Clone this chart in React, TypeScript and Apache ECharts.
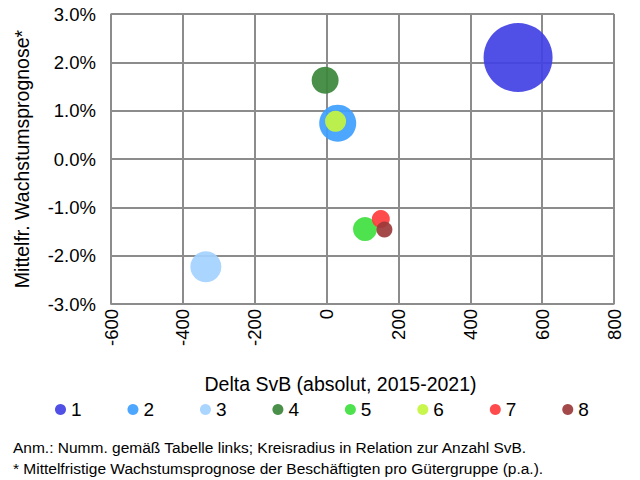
import React, { useEffect, useRef } from "react";
import * as echarts from "echarts";

const groups = ["1", "2", "3", "4", "5", "6", "7", "8"];
const deltaSvB = [533, 31, -336, -4, 107, 25, 151, 161];
const growth = [2.1, 0.74, -2.23, 1.63, -1.45, 0.78, -1.24, -1.46];
const bubbleDiameter = [69, 37, 31, 27, 24, 21, 18, 16];
const colors = ["#4141E4", "#3F9FFF", "#A3D1FF", "#3B873B", "#40E040", "#C4F53E", "#FF3C3C", "#9B3A3A"];
const footnotes = [
  "Anm.: Numm. gemäß Tabelle links; Kreisradius in Relation zur Anzahl SvB.",
  "* Mittelfristige Wachstumsprognose der Beschäftigten pro Gütergruppe (p.a.).",
];

const FONT = "Liberation Sans, Arial, sans-serif";

export default function App() {
  const ref = useRef<HTMLDivElement>(null);
  useEffect(() => {
    if (!ref.current) return;
    const chart = echarts.init(ref.current, null, { renderer: "svg" });
    chart.setOption({
      animation: false,
      textStyle: { fontFamily: FONT },
      grid: { left: 111, right: 26, top: 14, bottom: 176, containLabel: false },
      xAxis: {
        type: "value",
        min: -600,
        max: 800,
        interval: 200,
        name: "Delta SvB (absolut, 2015-2021)",
        nameLocation: "middle",
        nameGap: 70,
        nameTextStyle: { fontSize: 19.5, color: "#000", fontFamily: FONT, padding: [0, 44, 0, 0] },
        axisLine: { show: true, onZero: false, lineStyle: { color: "#8c8c8c", width: 1.5 } },
        axisTick: { show: false },
        axisLabel: { rotate: 90, fontSize: 18.5, color: "#000", margin: 5, fontFamily: FONT },
        splitLine: { show: true, lineStyle: { color: "#8c8c8c", width: 2 } },
      },
      yAxis: {
        type: "value",
        min: -3,
        max: 3,
        interval: 1,
        name: "Mittelfr. Wachstumsprognose*",
        nameLocation: "middle",
        nameGap: 79,
        nameTextStyle: { fontSize: 19.5, color: "#000", fontFamily: FONT },
        axisLine: { show: true, onZero: false, lineStyle: { color: "#8c8c8c", width: 1.5 } },
        axisTick: { show: false },
        axisLabel: {
          fontSize: 18.5,
          color: "#000",
          margin: 15,
          fontFamily: FONT,
          formatter: (v: number) => v.toFixed(1) + "%",
        },
        splitLine: { show: true, lineStyle: { color: "#8c8c8c", width: 2 } },
      },
      legend: {
        left: 50,
        top: 395,
        itemWidth: 11,
        itemHeight: 11,
        itemGap: 45.9,
        icon: "circle",
        textStyle: { fontSize: 19, color: "#000", fontFamily: FONT },
        data: groups,
      },
      graphic: footnotes.map((t, i) => ({
        type: "text",
        left: 13,
        top: 439 + i * 21,
        style: { text: t, fontSize: 15.5, fill: "#000", fontFamily: FONT },
      })),
      series: groups.map((g, i) => ({
        name: g,
        type: "scatter",
        data: [[deltaSvB[i], growth[i], bubbleDiameter[i]]],
        symbolSize: (d: number[]) => d[2],
        itemStyle: { color: colors[i], opacity: 0.92 },
        emphasis: { disabled: true },
      })),
    });
    return () => chart.dispose();
  }, []);
  return <div ref={ref} style={{ width: 640, height: 480, position: "absolute", left: 0, top: 0 }} />;
}
